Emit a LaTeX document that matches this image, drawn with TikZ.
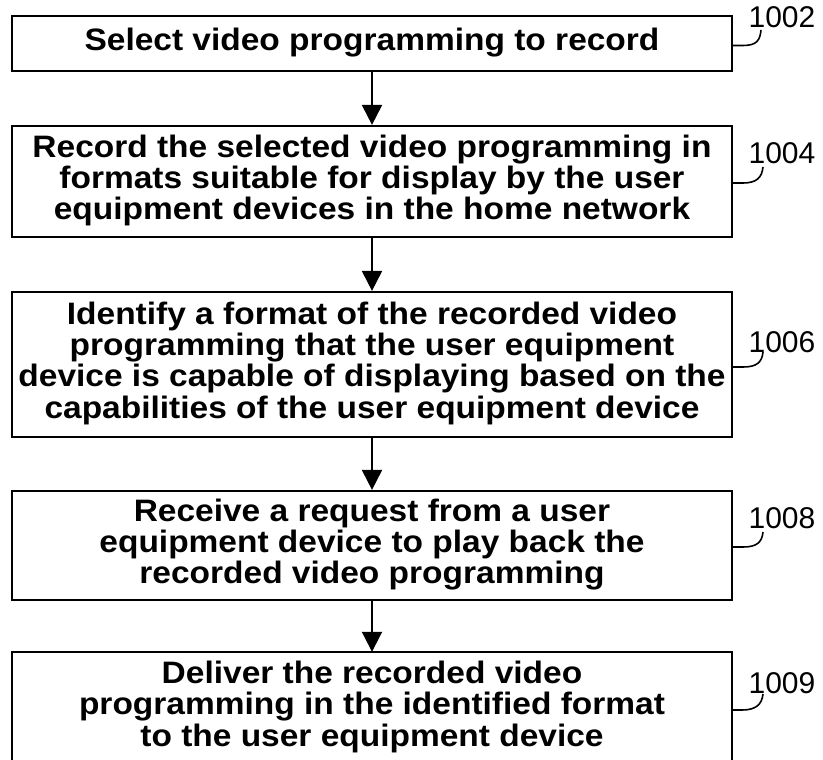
\documentclass[tikz,border=0pt]{standalone}
\usepackage{fontspec}
\setmainfont{Liberation Sans}
\usetikzlibrary{arrows.meta}
\newcommand{\boxtext}[1]{\scalebox{1.08}[1]{\fontsize{31}{29}\selectfont\bfseries\begin{tabular}{@{}c@{}}#1\end{tabular}}}
\tikzset{
  stepbox/.style={draw, line width=2.2pt, minimum width=720pt, inner sep=0pt, align=center},
  flow/.style={line width=2pt, -{Triangle[width=20pt,length=20pt]}},
  refnum/.style={font=\fontsize{30}{30}\selectfont, inner sep=0pt},
  squig/.style={line width=1.6pt}
}
\begin{document}
\begin{tikzpicture}[x=1pt,y=-1pt]
\useasboundingbox (0,0) rectangle (823,760);
\node[stepbox, minimum height=55pt] (b1) at (372,43.5) {\boxtext{Select video programming to record}};
\node[stepbox, minimum height=111pt] (b2) at (372,181.5) {\boxtext{Record the selected video programming in\\formats suitable for display by the user\\equipment devices in the home network}};
\node[stepbox, minimum height=145pt] (b3) at (372,364.5) {\boxtext{Identify a format of the recorded video\\programming that the user equipment\\device is capable of displaying based on the\\capabilities of the user equipment device}};
\node[stepbox, minimum height=109pt] (b4) at (372,545.5) {\boxtext{Receive a request from a user\\equipment device to play back the\\recorded video programming}};
\node[inner sep=0pt, minimum width=720pt, minimum height=112pt] (b5) at (372,708) {\boxtext{Deliver the recorded video\\programming in the identified format\\to the user equipment device}};
\draw[line width=2.2pt] ([yshift=-30pt]b5.south west) -- (b5.north west) -- (b5.north east) -- ([yshift=-30pt]b5.south east);

\draw[flow] (b1.south) -- (b2.north);
\draw[flow] (b2.south) -- (b3.north);
\draw[flow] (b3.south) -- (b4.north);
\draw[flow] (b4.south) -- (b5.north);

\node[refnum] (l1) at (782,17) {1002};
\node[refnum] (l2) at (782,153) {1004};
\node[refnum] (l3) at (782,342) {1006};
\node[refnum] (l4) at (782,518) {1008};
\node[refnum] (l5) at (782,683) {1009};
\coordinate (s1) at (761,30);
\coordinate (s2) at (763,167);
\coordinate (s3) at (763,352);
\coordinate (s4) at (763,532);
\coordinate (s5) at (763,694);
\draw[squig] ([yshift=-2pt]b1.east) -- ++(10,0) .. controls +(14,0) and +(-1,10) .. (s1);
\draw[squig] ([yshift=-1.5pt]b2.east) -- ++(10,0) .. controls +(14,0) and +(-1,10) .. (s2);
\draw[squig] ([yshift=-2.5pt]b3.east) -- ++(10,0) .. controls +(14,0) and +(-1,10) .. (s3);
\draw[squig] ([yshift=-1.5pt]b4.east) -- ++(10,0) .. controls +(14,0) and +(-1,10) .. (s4);
\draw[squig] ([yshift=-2pt]b5.east) -- ++(10,0) .. controls +(14,0) and +(-1,10) .. (s5);
\end{tikzpicture}
\end{document}
